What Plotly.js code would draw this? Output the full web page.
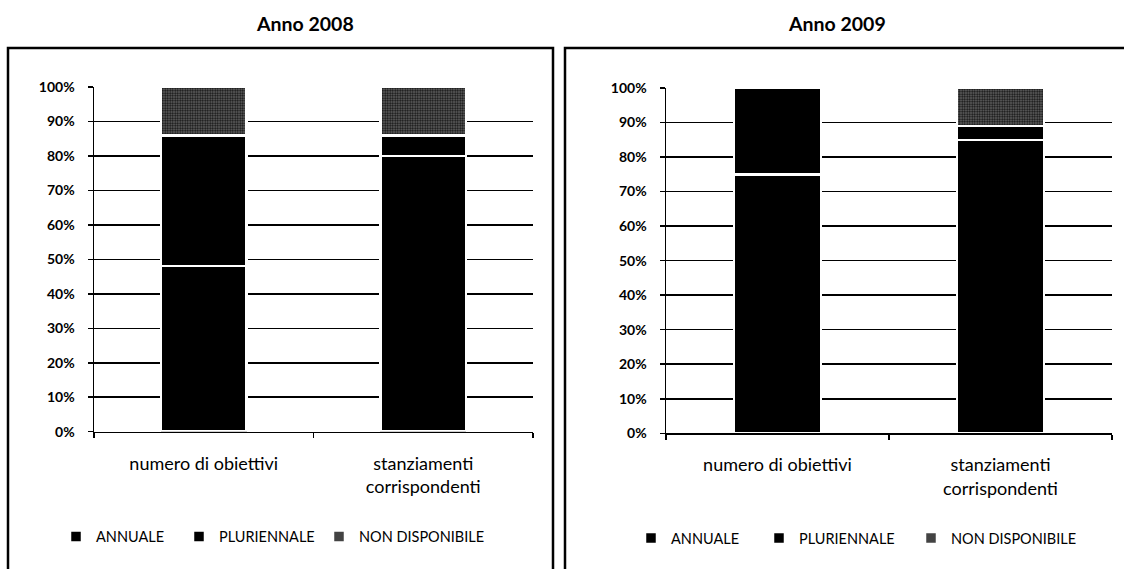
<!DOCTYPE html>
<html>
<head>
<meta charset="utf-8">
<script src="https://cdn.plot.ly/plotly-3.0.1.min.js"></script>
<style>
  html, body { margin: 0; padding: 0; background: #fff; }
  #chart { width: 1124px; height: 569px; }
</style>
</head>
<body>
<div id="chart"></div>
<script>
// Categories shared by both years
const categories = ['numero di obiettivi', 'stanziamenti<br>corrispondenti'];

// Shares (%) by type of objective, year 2008
const annuale2008 = [48, 80];
const pluriennale2008 = [38, 6];
const nonDisponibile2008 = [14, 14];

// Shares (%) by type of objective, year 2009
const annuale2009 = [75, 85];
const pluriennale2009 = [25, 4];
const nonDisponibile2009 = [0, 11];

const seriesNames = ['ANNUALE', 'PLURIENNALE', 'NON DISPONIBILE'];
const yearTitles = ['Anno 2008', 'Anno 2009'];
const yTickValues = [0, 10, 20, 30, 40, 50, 60, 70, 80, 90, 100];
const yTickLabels = ['0%', '10%', '20%', '30%', '40%', '50%', '60%', '70%', '80%', '90%', '100%'];

const W = 1124, H = 569;
const px = v => v / W;
const py = v => 1 - v / H;

const solidBlack = { color: '#000', line: { color: '#fff', width: 2.5 } };
const stippled = {
  color: '#333',
  pattern: { shape: '.', fgcolor: '#111', bgcolor: '#6a6a6a', size: 2.5, solidity: 0.5 },
  line: { color: '#fff', width: 2.5 }
};

// one legend per entry so each key sits where the panel places it
function yearTraces(vals, xa, ya, legendIds) {
  const markers = [solidBlack, solidBlack, stippled];
  return vals.map((v, i) => ({
    type: 'bar',
    name: seriesNames[i],
    x: categories,
    y: v,
    xaxis: xa,
    yaxis: ya,
    legend: legendIds[i],
    marker: markers[i],
    hoverinfo: 'skip'
  }));
}

const data = [
  ...yearTraces([annuale2008, pluriennale2008, nonDisponibile2008], 'x', 'y', ['legend', 'legend2', 'legend3']),
  ...yearTraces([annuale2009, pluriennale2009, nonDisponibile2009], 'x2', 'y2', ['legend4', 'legend5', 'legend6'])
];

function xAxis(domain, anchor) {
  return {
    domain: domain, anchor: anchor, type: 'category',
    showline: true, linecolor: '#000', linewidth: 1.5,
    ticks: 'outside', tickson: 'boundaries', ticklen: 5, tickcolor: '#000', tickwidth: 1.5,
    tickfont: { size: 18, color: '#000' },
    ticklabelstandoff: 15,
    showgrid: false, fixedrange: true
  };
}
function yAxis(domain, anchor) {
  return {
    domain: domain, anchor: anchor, range: [0, 100],
    tickmode: 'array', tickvals: yTickValues, ticktext: yTickLabels,
    showline: true, linecolor: '#000', linewidth: 1.5,
    ticks: 'outside', ticklen: 5, tickcolor: '#000', tickwidth: 1.5,
    tickfont: { size: 14, color: '#000', weight: 'bold' },
    ticklabelstandoff: 10,
    gridcolor: '#000', gridwidth: 1.5, zeroline: false, fixedrange: true
  };
}

function legendAt(textLeft, yCenter) {
  return {
    orientation: 'h', xanchor: 'left', yanchor: 'middle',
    x: px(textLeft - 40), y: py(yCenter),
    font: { size: 14.5, color: '#000' }, bgcolor: 'rgba(0,0,0,0)'
  };
}

const layout = {
  width: W, height: H,
  margin: { l: 0, r: 0, t: 0, b: 0 },
  paper_bgcolor: '#fff', plot_bgcolor: 'rgba(0,0,0,0)',
  font: { family: 'Lato, "Open Sans", sans-serif', color: '#000' },
  barmode: 'stack', bargap: 0.61,
  xaxis: xAxis([px(94), px(533)], 'y'),
  yaxis: yAxis([py(431.7), py(87)], 'x'),
  xaxis2: xAxis([px(666), px(1112)], 'y2'),
  yaxis2: yAxis([py(433.3), py(88)], 'x2'),
  legend: legendAt(96, 536.5),
  legend2: legendAt(219, 536.5),
  legend3: legendAt(359, 536.5),
  legend4: legendAt(671, 538),
  legend5: legendAt(799, 538),
  legend6: legendAt(951, 538),
  annotations: [
    { text: '<b>' + yearTitles[0] + '</b>', xref: 'paper', yref: 'paper', x: px(305), y: py(23),
      xanchor: 'center', yanchor: 'middle', showarrow: false, font: { size: 19.5, color: '#000' } },
    { text: '<b>' + yearTitles[1] + '</b>', xref: 'paper', yref: 'paper', x: px(837), y: py(23),
      xanchor: 'center', yanchor: 'middle', showarrow: false, font: { size: 19.5, color: '#000' } }
  ],
  shapes: [
    { type: 'rect', xref: 'paper', yref: 'paper', x0: px(8), x1: px(553), y0: -0.1, y1: py(48),
      line: { color: '#000', width: 2.5 }, layer: 'below' },
    { type: 'rect', xref: 'paper', yref: 'paper', x0: px(565), x1: 1.1, y0: -0.1, y1: py(48),
      line: { color: '#000', width: 2.5 }, layer: 'below' }
  ],
  showlegend: true
};

Plotly.newPlot('chart', data, layout, { staticPlot: true, displayModeBar: false });
</script>
</body>
</html>
